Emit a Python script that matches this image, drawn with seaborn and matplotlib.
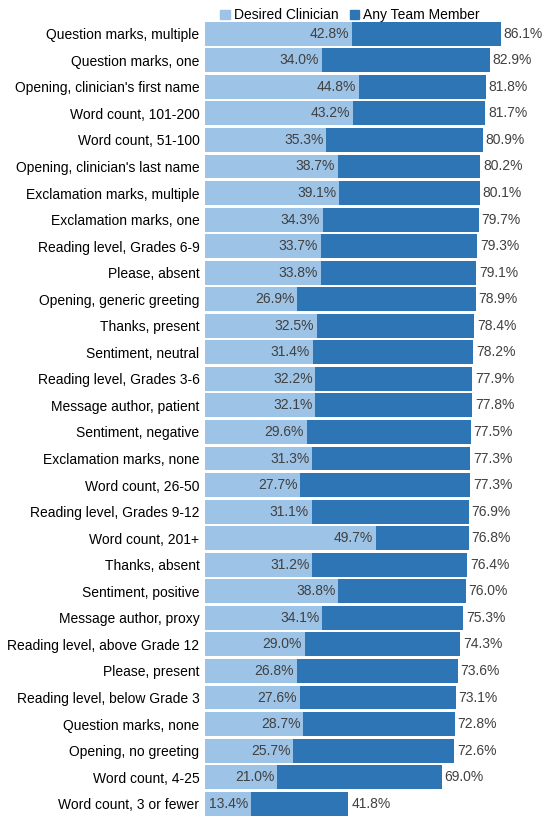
import matplotlib
matplotlib.use("Agg")
import matplotlib.pyplot as plt
import seaborn as sns
import pandas as pd
from matplotlib.patches import Patch

categories = ["Question marks, multiple","Question marks, one","Opening, clinician's first name","Word count, 101-200",
"Word count, 51-100","Opening, clinician's last name","Exclamation marks, multiple","Exclamation marks, one",
"Reading level, Grades 6-9","Please, absent","Opening, generic greeting","Thanks, present","Sentiment, neutral",
"Reading level, Grades 3-6","Message author, patient","Sentiment, negative","Exclamation marks, none",
"Word count, 26-50","Reading level, Grades 9-12","Word count, 201+","Thanks, absent","Sentiment, positive",
"Message author, proxy","Reading level, above Grade 12","Please, present","Reading level, below Grade 3",
"Question marks, none","Opening, no greeting","Word count, 4-25","Word count, 3 or fewer"]
desired = [42.8,34.0,44.8,43.2,35.3,38.7,39.1,34.3,33.7,33.8,26.9,32.5,31.4,32.2,32.1,29.6,31.3,27.7,31.1,49.7,
           31.2,38.8,34.1,29.0,26.8,27.6,28.7,25.7,21.0,13.4]
anyteam = [86.1,82.9,81.8,81.7,80.9,80.2,80.1,79.7,79.3,79.1,78.9,78.4,78.2,77.9,77.8,77.5,77.3,77.3,76.9,76.8,
           76.4,76.0,75.3,74.3,73.6,73.1,72.8,72.6,69.0,41.8]

df = pd.DataFrame({"cat": categories, "desired": desired, "any": anyteam})
light, dark = "#9DC3E6", "#2E75B6"
plt.rcParams['font.family'] = ['Liberation Sans', 'DejaVu Sans']
fig = plt.figure(figsize=(5.6, 8.17), dpi=100)
ax = fig.add_axes([0.366, 0.0, 0.613, 0.975])
sns.barplot(data=df, y="cat", x="any", color=dark, ax=ax, width=0.9, saturation=1, orient="h")
sns.barplot(data=df, y="cat", x="desired", color=light, ax=ax, width=0.9, saturation=1, orient="h")
for i, (d, a) in enumerate(zip(desired, anyteam)):
    ax.text(d - 0.8, i, f"{d:.1f}%", ha="right", va="center", fontsize=10, color="#404040")
    ax.text(a + 0.8, i, f"{a:.1f}%", ha="left", va="center", fontsize=10, color="#404040")
ax.set_xlim(0, 100)
ax.set_ylim(len(categories) - 0.5, -0.5)
ax.set_xlabel(""); ax.set_ylabel("")
ax.set_xticks([])
ax.tick_params(axis="y", length=0, labelsize=10, labelcolor="#000000", pad=4)
for s in ax.spines.values():
    s.set_visible(False)
fig.legend(handles=[Patch(color=light, label="Desired Clinician"), Patch(color=dark, label="Any Team Member")],
           loc="upper center", bbox_to_anchor=(0.625, 1.005), ncol=2, frameon=False, fontsize=10,
           handlelength=0.7, handleheight=0.7, handletextpad=0.3, columnspacing=0.8)
fig.savefig("out.png", dpi=100)
